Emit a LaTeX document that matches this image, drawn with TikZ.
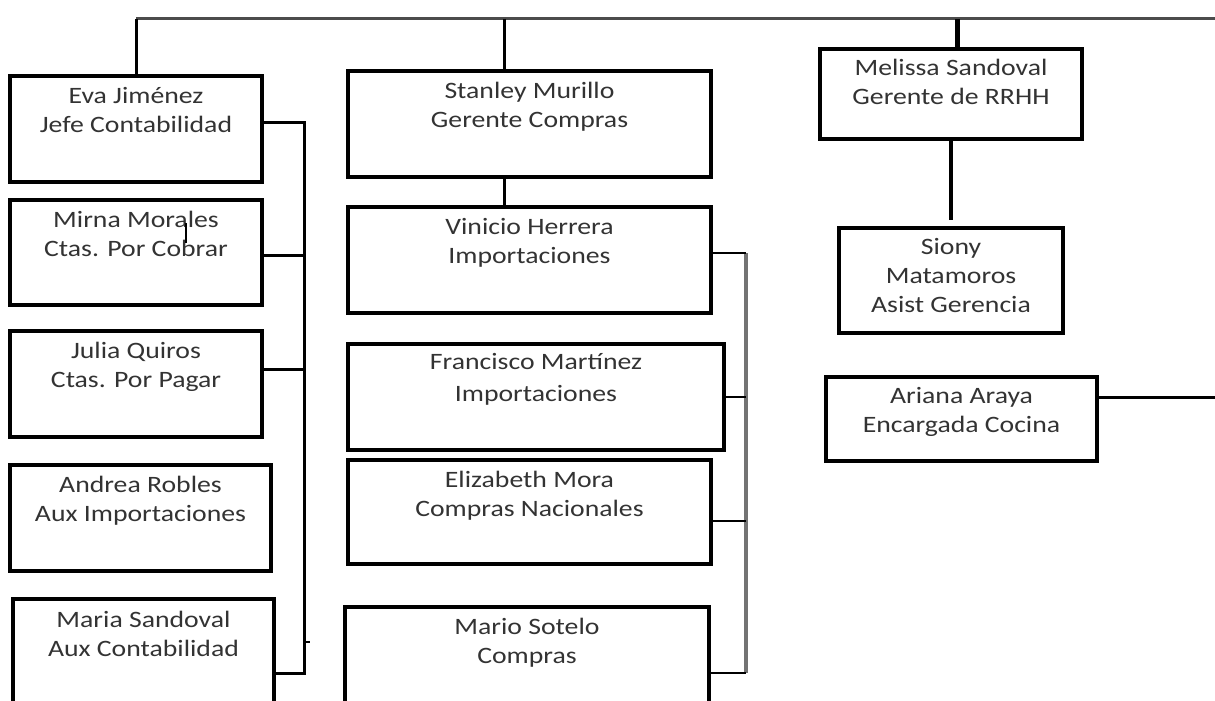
\documentclass[tikz,border=0pt]{standalone}
\usepackage{fontspec}
\setmainfont[FakeStretch=1.18]{Carlito}
\usetikzlibrary{positioning}

\begin{document}
\begin{tikzpicture}[x=1pt, y=-1pt,
  box/.style={rectangle, draw=black, line width=3.5pt, inner sep=0pt},
  txt/.style={align=center, inner sep=0pt, text=black!80, font=\fontsize{23.5}{29}\selectfont},
  link/.style={draw=black, line width=3pt},
  bus/.style={draw=black!55, line width=4.5pt}]
\useasboundingbox (0,0) rectangle (1215,701);
\clip (0,0) rectangle (1215,701);

\node[box, minimum width=252pt, minimum height=106pt] (eva) at (136,129){};
\node[box, minimum width=252pt, minimum height=105pt] (mirna) at (136,252.5){};
\node[box, minimum width=252pt, minimum height=106pt] (julia) at (136,384){};
\node[box, minimum width=261pt, minimum height=106pt] (andrea) at (140.5,518){};
\node[box, minimum width=261pt, minimum height=106pt] (maria) at (143.5,652){};

\node[box, minimum width=363pt, minimum height=106pt] (stanley) at (529.5,124){};
\node[box, minimum width=363pt, minimum height=106pt] (vinicio) at (529.5,260){};
\node[box, minimum width=376pt, minimum height=106pt] (francisco) at (536,397){};
\node[box, minimum width=363pt, minimum height=104pt] (elizabeth) at (529.5,512){};
\node[box, minimum width=364pt, minimum height=106pt] (mario) at (527,660){};

\node[box, minimum width=262pt, minimum height=90pt] (melissa) at (951,94){};
\node[box, minimum width=224pt, minimum height=105pt] (siony) at (951,280.5){};
\node[box, minimum width=271pt, minimum height=84pt] (ariana) at (961.5,419){};

\node[txt, below=13pt of eva.north] (evaT){Eva Jiménez\\Jefe Contabilidad};
\node[txt, below=13pt of mirna.north] (mirnaT){Mirna Morales\\Ctas. Por Cobrar};
\node[txt, below=13pt of julia.north] (juliaT){Julia Quiros\\Ctas. Por Pagar};
\node[txt, below=13pt of andrea.north] (andreaT){Andrea Robles\\Aux Importaciones};
\node[txt, below=14pt of maria.north] (mariaT){Maria Sandoval\\Aux Contabilidad};
\node[txt, below=13pt of stanley.north] (stanleyT){Stanley Murillo\\Gerente Compras};
\node[txt, below=13pt of vinicio.north] (vinicioT){Vinicio Herrera\\Importaciones};
\node[txt, below=11pt of francisco.north] (franciscoT){Francisco Martínez\\[3pt]Importaciones};
\node[txt, below=13pt of elizabeth.north] (elizabethT){Elizabeth Mora\\Compras Nacionales};
\node[txt, below=13pt of mario.north] (marioT){Mario Sotelo\\Compras};
\node[txt, below=12pt of melissa.north] (melissaT){Melissa Sandoval\\Gerente de RRHH};
\node[txt, below=12pt of siony.north] (sionyT){Siony\\Matamoros\\Asist Gerencia};
\node[txt, below=12pt of ariana.north] (arianaT){Ariana Araya\\Encargada Cocina};

\coordinate (tEva) at (136,19);
\coordinate (tStan) at (504,19);
\coordinate (tMel) at (957,19);
\coordinate (tEnd) at (1215,19);
\coordinate (lb1) at (304,122);
\coordinate (lb2) at (304,255);
\coordinate (lb3) at (304,369);
\coordinate (lb4) at (304,673);
\coordinate (lbt) at (304,642);
\coordinate (mb1) at (746,253);
\coordinate (mb2) at (746,397);
\coordinate (mb3) at (746,521);
\coordinate (mb4) at (746,673);
\coordinate (rEnd) at (1215,397);
\coordinate (mk1) at (186,223);
\coordinate (mk2) at (186,243);

\draw[draw=black!70, line width=3pt] (tEva) -- (tEnd);
\draw[link] (tEva) -- (eva.north);
\draw[link] (tStan) -- (tStan |- stanley.north);
\draw[link, line width=5pt] (tMel) -- (tMel |- melissa.north);
\draw[link] (tStan |- stanley.south) -- (tStan |- vinicio.north);
\draw[link, line width=3.5pt] (melissa.south) -- ([yshift=6pt]siony.north);

\draw[link] (eva.east |- lb1) -- (lb1) -- (lb4) -- (maria.east |- lb4);
\draw[link] (mirna.east |- lb2) -- (lb2);
\draw[link] (julia.east |- lb3) -- (lb3);
\draw[link, line width=2pt] (lbt) -- ++(6pt,0);
\draw[line width=1.2pt] (mk1) -- (mk2);

\draw[bus] (mb1) -- (mb4);
\draw[link, line width=2.5pt] (vinicio.east |- mb1) -- (mb1);
\draw[link, line width=2.5pt] (francisco.east |- mb2) -- (mb2);
\draw[link, line width=2.5pt] (elizabeth.east |- mb3) -- (mb3);
\draw[link, line width=2.5pt] (mario.east |- mb4) -- (mb4);

\draw[link] (ariana.east |- rEnd) -- (rEnd);
\end{tikzpicture}
\end{document}
